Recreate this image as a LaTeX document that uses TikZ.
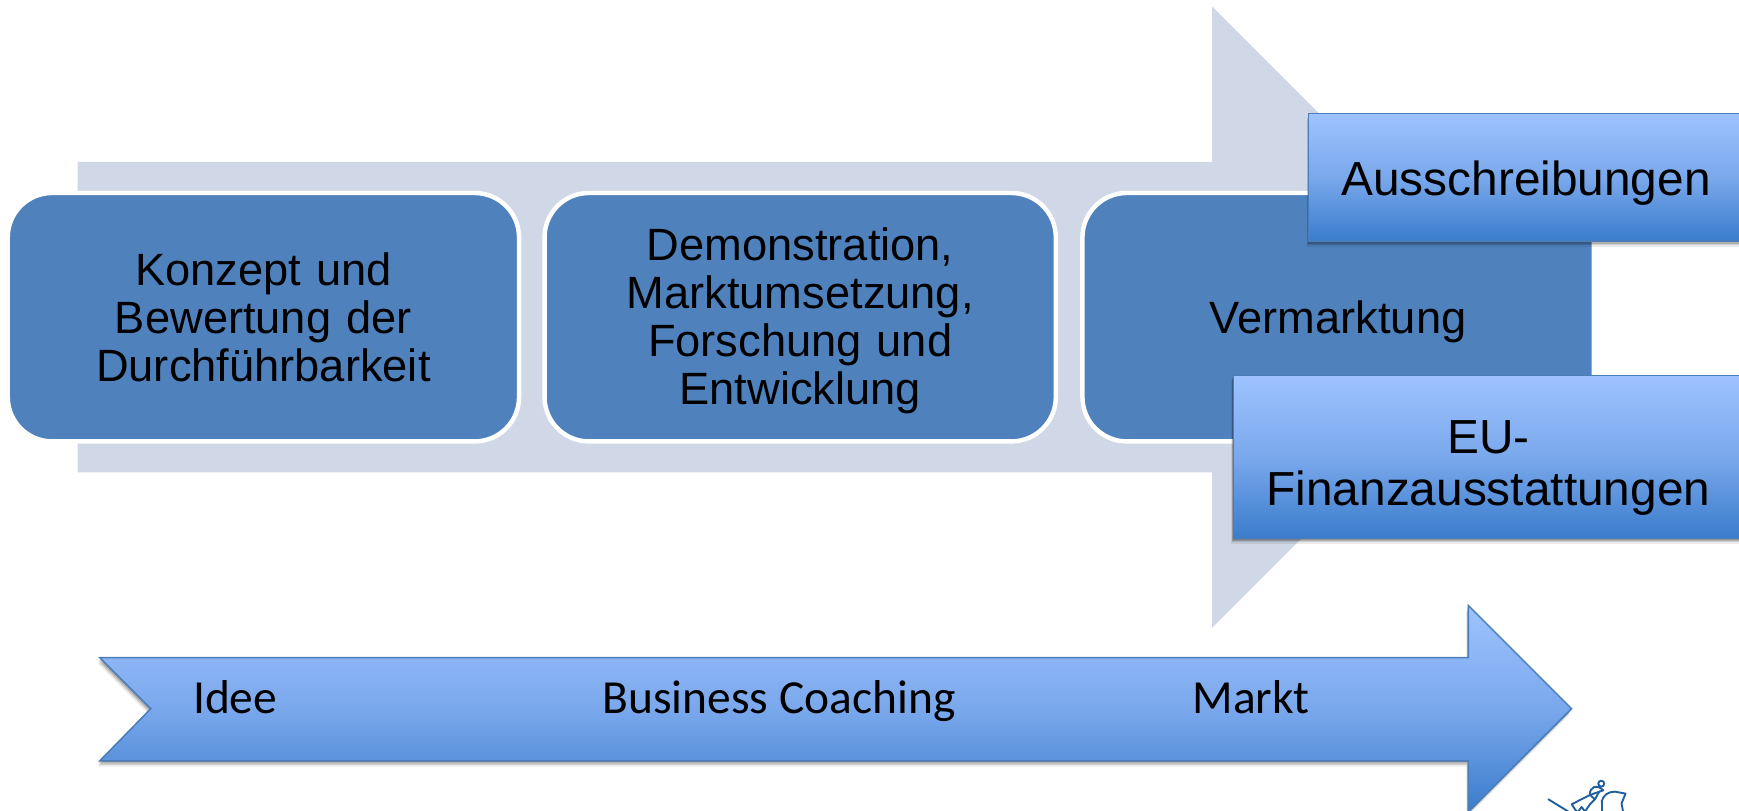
\documentclass[tikz,border=0pt]{standalone}
\usepackage{fontspec}
\setmainfont{Liberation Sans}
\newfontfamily\calib{Carlito}
\usetikzlibrary{shadows,calc}
\definecolor{bgarrow}{HTML}{D0D8E8}
\definecolor{boxblue}{HTML}{4F81BD}
\definecolor{edgeblue}{HTML}{4A7EBB}
\definecolor{gradtop}{HTML}{9EC3FF}
\definecolor{gradmid}{HTML}{7AA8EC}
\definecolor{gradbot}{HTML}{3A7CCB}
\definecolor{logoblue}{HTML}{1F5F9F}
\tikzset{
  softshadow/.style={
    general shadow={shadow xshift=-.3pt,shadow yshift=-.5pt,fill=black,opacity=.16},
    general shadow={shadow xshift=-.5pt,shadow yshift=-1.1pt,fill=black,opacity=.15},
    general shadow={shadow xshift=-.7pt,shadow yshift=-1.8pt,fill=black,opacity=.12},
    general shadow={shadow xshift=-.9pt,shadow yshift=-2.6pt,fill=black,opacity=.08}},
  gradfill/.style={top color=gradtop,bottom color=gradbot,middle color=gradmid,draw=edgeblue,line width=.7pt},
  stepbox/.style={rounded corners=20pt,fill=boxblue,draw=white,line width=2pt,inner sep=0pt,
     minimum width=230.5pt,minimum height=112pt,align=center,text width=210pt,
     font=\fontsize{20.4}{21.6}\selectfont,text=black},
  gradbox/.style={rectangle,gradfill,inner sep=0pt,
     align=center,font=\fontsize{21.55}{23.3}\selectfont,text=black,softshadow},
  arrowtxt/.style={font=\calib\fontsize{21.4}{25}\selectfont,text=black,inner sep=0pt,anchor=base},
}
\begin{document}
\begin{tikzpicture}[x=0.5pt,y=-0.5pt]
\useasboundingbox (0,0) rectangle (1568,731);
\clip (0,0) rectangle (1568,731);
% background arrow
\fill[bgarrow] (70,146) -- (1093,146) -- (1093,6) -- (1373,286) -- (1093,566) -- (1093,426) -- (70,426) -- cycle;
% step boxes
\node[stepbox] (konzept) at (237.5,286) {Konzept und\\Bewertung der\\Durchführbarkeit};
\node[stepbox] (demo) at (721.5,286) {\rule{0pt}{18pt}Demonstration,\\Marktumsetzung,\\Forschung und\\Entwicklung};
\node[stepbox] (verm) at (1206.5,286) {\rule{0pt}{19pt}Vermarktung};
% funding boxes
\node[gradbox,minimum width=196pt,minimum height=57.5pt] (aus) at (1376,160) {\rule{0pt}{21pt}Ausschreibungen};
\node[gradbox,minimum width=230pt,minimum height=73.5pt] (eu) at (1342,412) {\rule{0pt}{25pt}EU-\\Finanzausstattungen};
% bottom arrow
\path[gradfill,softshadow]
  (90,593) -- (1324,593) -- (1324,546) -- (1417,639) -- (1324,732) -- (1324,686) -- (90,686) -- (136,639) -- cycle;
\node[arrowtxt] (idee) at (212,643) {Idee};
\node[arrowtxt] (coach) at (702.5,643) {Business Coaching};
\node[arrowtxt] (markt) at (1128,643) {Markt};
% logo
\begin{scope}[shift={(1388.6,695.2)},x=0.15pt,y=-0.15pt,draw=logoblue,line width=.85pt,line cap=round,line join=round]
\draw (25,85) -- (90,125);
\draw (112,125) -- (95,100) -- (150,72) -- (165,85) -- (150,100) -- (135,122) -- (125,108) -- (112,125);
\draw (150,72) .. controls (148,48) and (170,38) .. (190,58) -- (150,72);
\draw (184,38) circle (9);
\draw (178,62) -- (165,85);
\draw (185,92) .. controls (190,72) and (205,62) .. (225,62) -- (257,68) -- (250,85) -- (245,97) -- (250,125);
\draw (185,92) -- (185,125);
\end{scope}
\end{tikzpicture}
\end{document}
